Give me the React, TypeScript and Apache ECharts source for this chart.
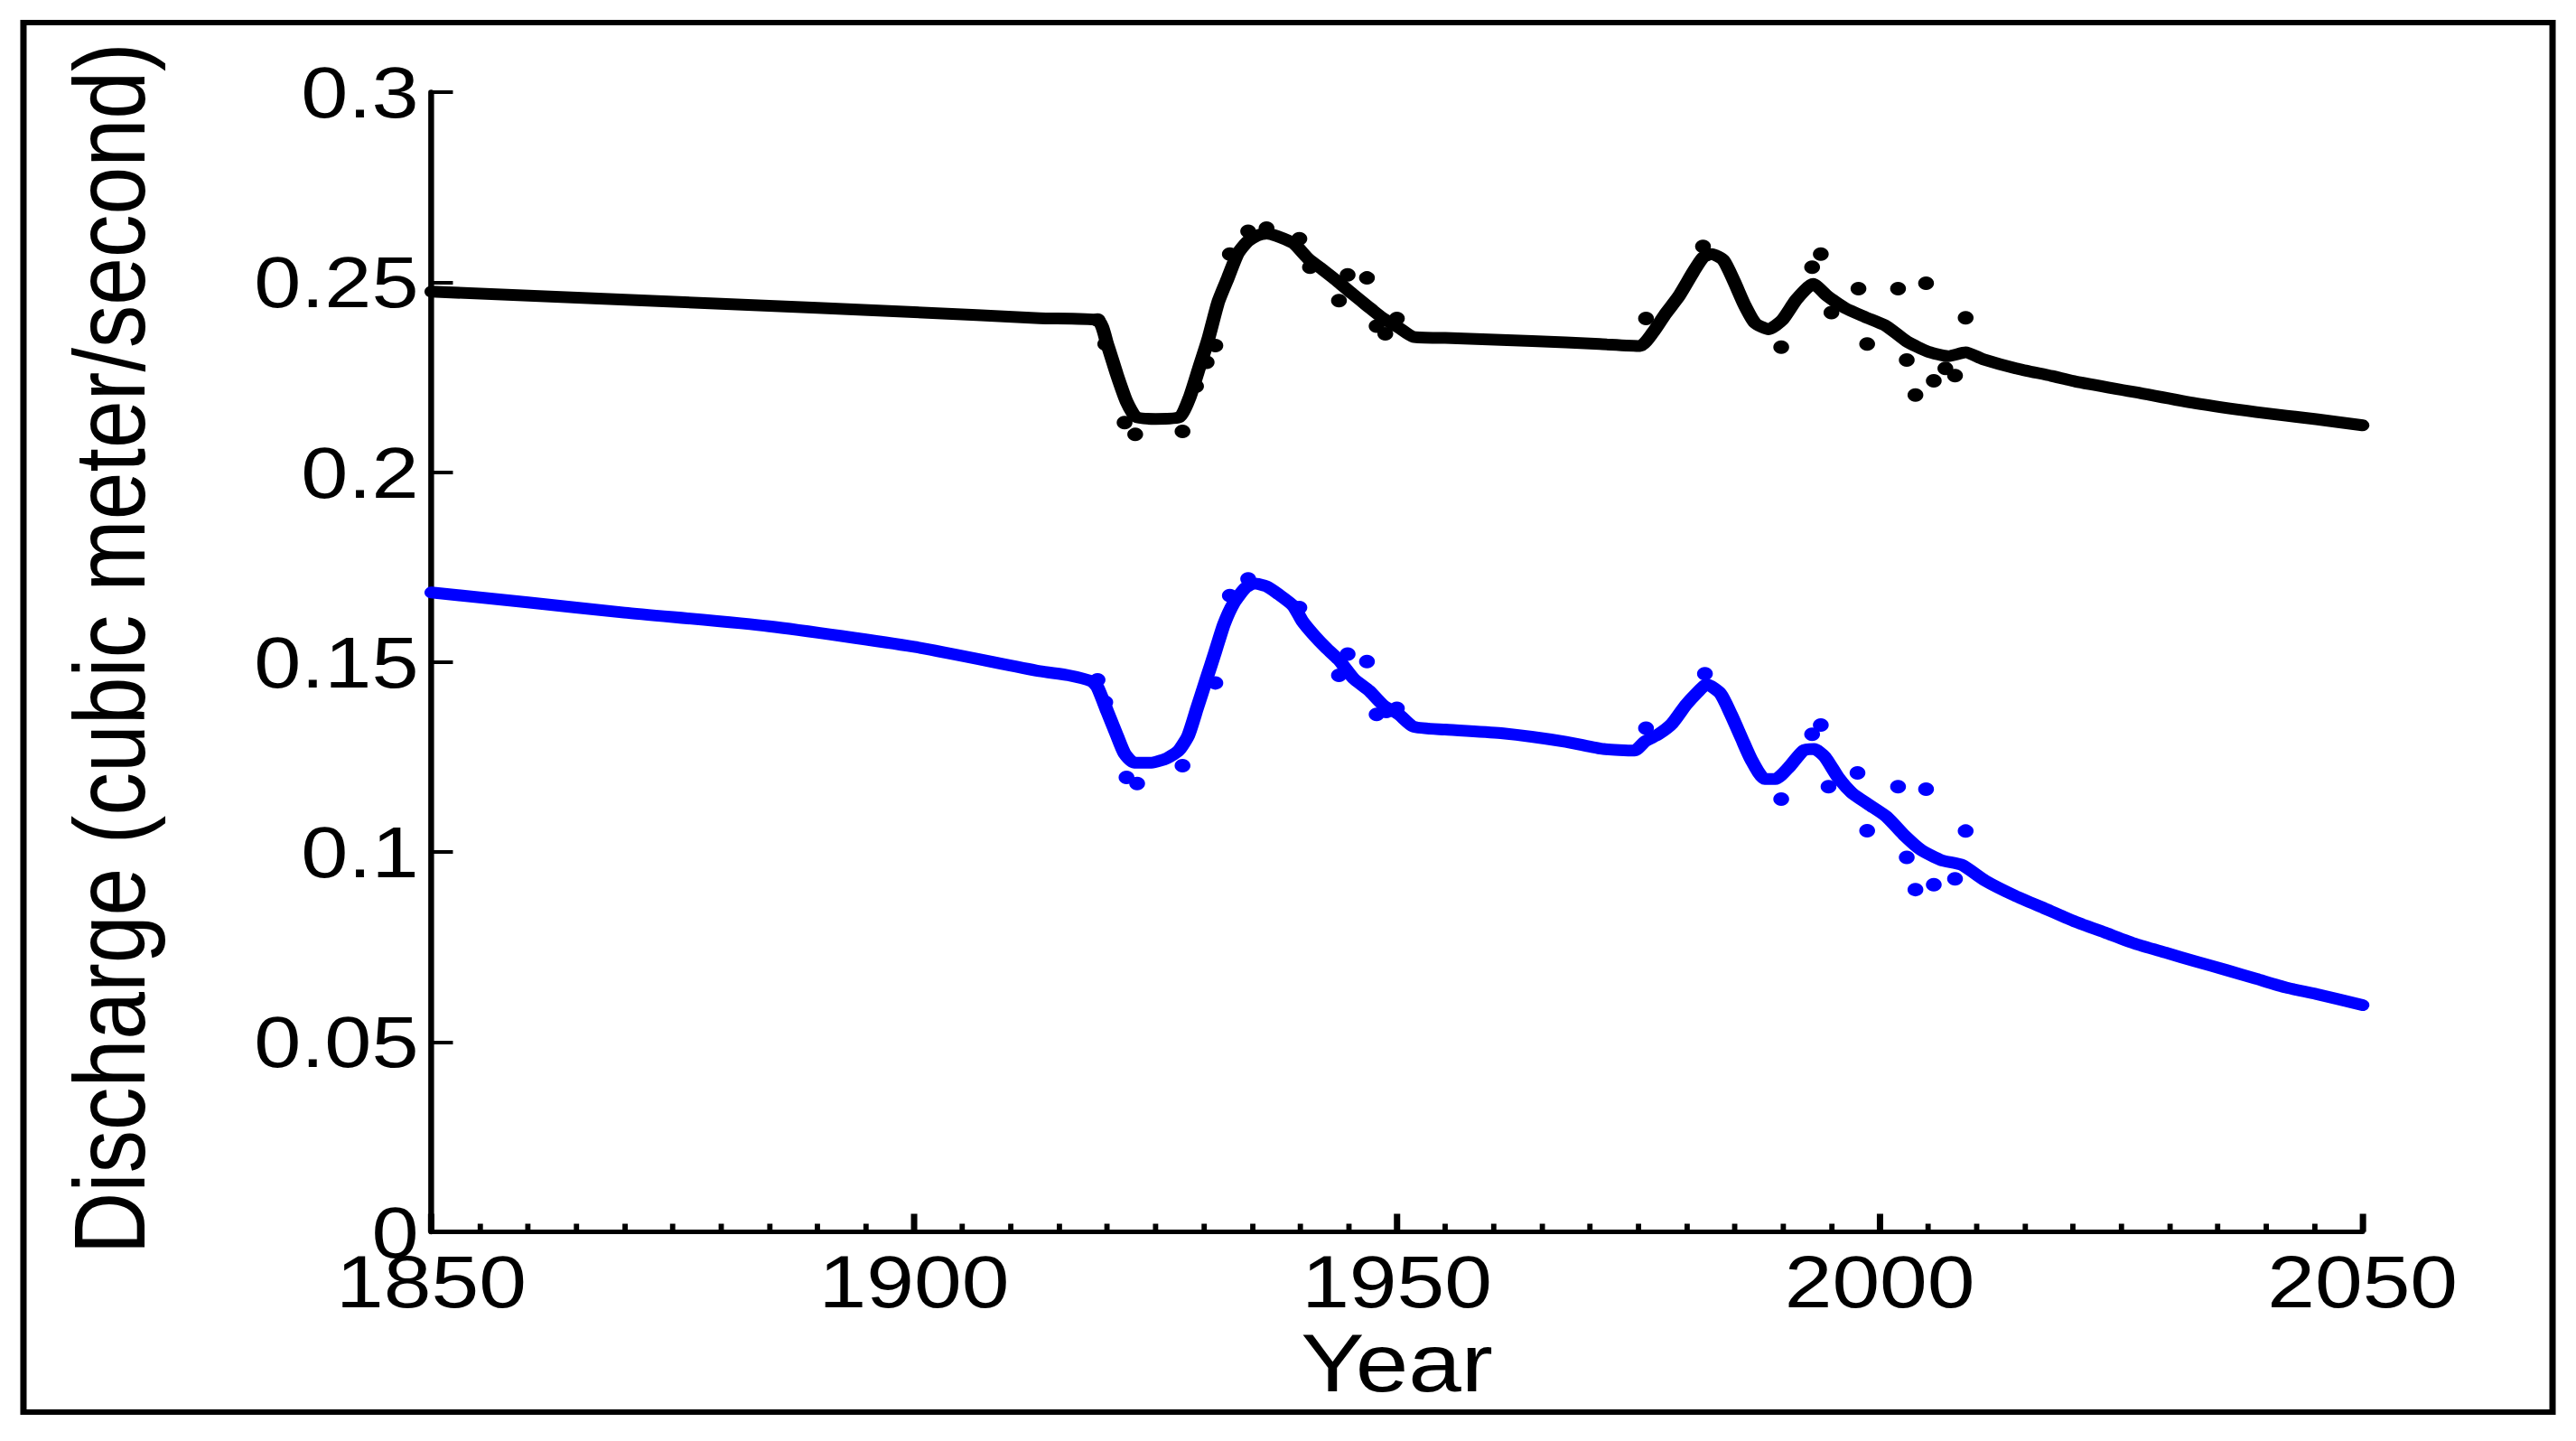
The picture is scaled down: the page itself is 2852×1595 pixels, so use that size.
import React, { useEffect, useRef } from "react";
import * as echarts from "echarts";

// ---- data (year, discharge in m^3/s) ----
const blackModel: [number, number][] = [
  [1850, 0.2475], [1880, 0.2443], [1900, 0.2421], [1913, 0.2405], [1919, 0.2400],
  [1920, 0.2337], [1921, 0.2257], [1922, 0.2186], [1923, 0.2145], [1925, 0.2140],
  [1927.5, 0.2145], [1928.5, 0.2194], [1929.5, 0.2273], [1930.5, 0.2353], [1931.5, 0.2448],
  [1932.5, 0.2511], [1933.5, 0.2574], [1934.5, 0.2606], [1935.5, 0.2622], [1936.5, 0.2628],
  [1937.5, 0.2622], [1939.3, 0.2602], [1940.8, 0.2562], [1942.4, 0.2531], [1944, 0.2499],
  [1945.5, 0.2467], [1947, 0.2436], [1948.6, 0.2404], [1950.2, 0.2380], [1951.7, 0.2356],
  [1955, 0.2353], [1964, 0.2345], [1971, 0.2337], [1975.2, 0.2332], [1976.5, 0.2367],
  [1977.8, 0.2416], [1979.2, 0.2463], [1980.7, 0.2527], [1981.7, 0.2565], [1982.6, 0.2574],
  [1983.8, 0.2558], [1984.9, 0.2503], [1986, 0.2440], [1987.1, 0.2392], [1988.5, 0.2376],
  [1989.9, 0.2400], [1991.4, 0.2455], [1993.1, 0.2495], [1994.6, 0.2463], [1996.4, 0.2432],
  [1998.5, 0.2408], [2000.7, 0.2384], [2002.8, 0.2344], [2005, 0.2317], [2007.1, 0.2305],
  [2008.9, 0.2315], [2010.7, 0.2297], [2014.1, 0.2273], [2017.8, 0.2253], [2020.3, 0.2238],
  [2026.5, 0.2210], [2032.7, 0.2181], [2039, 0.2158], [2045.2, 0.2139], [2050, 0.2123],
];

const blackObserved: [number, number][] = [
  [1919, 0.2400], [1919.8, 0.2337], [1921.8, 0.2130], [1922.9, 0.2099], [1927.8, 0.2107],
  [1929.2, 0.2226], [1930.3, 0.2289], [1931.2, 0.2333], [1932.7, 0.2574], [1934.6, 0.2634],
  [1936.5, 0.2642], [1939.9, 0.2614], [1941, 0.2539], [1944, 0.2451], [1944.9, 0.2519],
  [1946.9, 0.2511], [1947.9, 0.2384], [1948.8, 0.2364], [1950, 0.2404], [1975.8, 0.2404],
  [1981.7, 0.2594], [1989.8, 0.2329], [1993, 0.2539], [1993.9, 0.2574], [1995, 0.2420],
  [1997.8, 0.2483], [1998.7, 0.2337], [2001.9, 0.2483], [2002.8, 0.2295], [2003.7, 0.2203],
  [2004.8, 0.2497], [2005.6, 0.2240], [2006.8, 0.2273], [2007.8, 0.2254], [2008.9, 0.2406],
];

const blueModel: [number, number][] = [
  [1850, 0.1683], [1860, 0.1657], [1870, 0.1630], [1885, 0.1594], [1900, 0.1540],
  [1913, 0.1476], [1916, 0.1465], [1918.4, 0.1449], [1919, 0.1433], [1920, 0.1370],
  [1921, 0.1307], [1921.8, 0.1259], [1922.8, 0.1235], [1924.6, 0.1235], [1926.2, 0.1247],
  [1927.4, 0.1267], [1928.4, 0.1307], [1929.3, 0.1378], [1930.3, 0.1457], [1931.2, 0.1528],
  [1932.1, 0.1600], [1933.1, 0.1655], [1934.3, 0.1695], [1935.2, 0.1707], [1936.5, 0.1699],
  [1937.7, 0.1679], [1939.3, 0.1647], [1940.2, 0.1608], [1941.5, 0.1568], [1942.7, 0.1536],
  [1944, 0.1505], [1945.5, 0.1457], [1947.1, 0.1425], [1948.6, 0.1386], [1950.2, 0.1362],
  [1951.7, 0.1330], [1955, 0.1322], [1961, 0.1312], [1967.5, 0.1290], [1971.4, 0.1271],
  [1974.6, 0.1267], [1975.7, 0.1291], [1977.1, 0.1310], [1978.5, 0.1338], [1979.9, 0.1386],
  [1981, 0.1417], [1982.1, 0.1441], [1983.5, 0.1417], [1984.6, 0.1362], [1985.7, 0.1299],
  [1986.7, 0.1243], [1988.1, 0.1192], [1989.2, 0.1192], [1990.6, 0.1223], [1992.1, 0.1267],
  [1993.2, 0.1271], [1994.3, 0.1251], [1995.7, 0.1196], [1997.1, 0.1156], [1998.9, 0.1124],
  [2000.7, 0.1093], [2002.5, 0.1045], [2004.3, 0.1005], [2006.4, 0.0978], [2008.5, 0.0966],
  [2010.9, 0.0925], [2014, 0.0885], [2017.2, 0.0850], [2020.3, 0.0816], [2023.4, 0.0787],
  [2026.5, 0.0758], [2029.6, 0.0735], [2032.7, 0.0712], [2035.9, 0.0689], [2039, 0.0666],
  [2042.1, 0.0643], [2045.2, 0.0626], [2050, 0.0597],
];

const blueObserved: [number, number][] = [
  [1919, 0.1453], [1919.8, 0.1394], [1922, 0.1196], [1923.1, 0.1180], [1927.8, 0.1227],
  [1931.2, 0.1445], [1932.7, 0.1675], [1934.6, 0.1719], [1939.9, 0.1643], [1944, 0.1465],
  [1944.9, 0.1521], [1946.9, 0.1501], [1947.9, 0.1362], [1948.9, 0.1370], [1950, 0.1378],
  [1975.8, 0.1326], [1981.9, 0.1469], [1989.8, 0.1139], [1993, 0.1310], [1993.9, 0.1334],
  [1994.7, 0.1172], [1997.7, 0.1208], [1998.7, 0.1056], [2001.9, 0.1172], [2002.8, 0.0986],
  [2003.7, 0.0901], [2004.8, 0.1165], [2005.6, 0.0914], [2007.8, 0.0929], [2008.9, 0.1055],
];

const xTitle = "Year";
const yTitle = "Discharge (cubic meter/second)";

const FONT = '"Liberation Sans", Arial, sans-serif';
const STRETCH = 1.17; // the reference figure is stretched horizontally
const W = 2852 / STRETCH;
const H = 1595;

export default function App() {
  const ref = useRef<HTMLDivElement>(null);

  useEffect(() => {
    if (!ref.current) return;
    const chart = echarts.init(ref.current, undefined, { renderer: "svg" });
    const option: any = {
      animation: false,
      backgroundColor: "#ffffff",
      grid: { left: 408.1, top: 102, width: 1827.5, height: 1261.5, containLabel: false },
      xAxis: {
        type: "value",
        min: 1850,
        max: 2050,
        interval: 50,
        name: xTitle,
        nameLocation: "middle",
        nameGap: 100,
        nameTextStyle: { fontFamily: FONT, fontSize: 90, lineHeight: 90, color: "#000" },
        axisLine: { show: true, onZero: false, lineStyle: { color: "#000", width: 5 } },
        axisTick: { show: true, inside: true, length: 20, lineStyle: { color: "#000", width: 6 } },
        minorTick: { show: true, splitNumber: 10, length: 9, lineStyle: { color: "#000", width: 5 } },
        axisLabel: {
          fontFamily: FONT,
          fontSize: 81,
          lineHeight: 50,
          color: "#000",
          margin: 30,
          formatter: (v: number) => String(v),
        },
        splitLine: { show: false },
        minorSplitLine: { show: false },
      },
      yAxis: {
        type: "value",
        min: 0,
        max: 0.3,
        interval: 0.05,
        name: yTitle,
        nameLocation: "middle",
        nameRotate: 90,
        nameGap: 257,
        nameTextStyle: {
          fontFamily: FONT,
          fontSize: 95,
          lineHeight: 95,
          color: "#000",
          padding: [0, 0, 0, 30],
        },
        axisLine: { show: true, onZero: false, lineStyle: { color: "#000", width: 5.5 } },
        axisTick: { show: true, inside: true, length: 20.5, lineStyle: { color: "#000", width: 4 } },
        axisLabel: { fontFamily: FONT, fontSize: 80, lineHeight: 54, color: "#000", margin: 12 },
        splitLine: { show: false },
      },
      graphic: [
        {
          type: "rect",
          shape: { x: 22.2, y: 25, width: 2393.2, height: 1538 },
          style: { fill: "none", stroke: "#000", lineWidth: 6 },
          silent: true,
          z: 100,
        },
      ],
      series: [
        {
          type: "line",
          data: blackModel,
          showSymbol: false,
          symbol: "none",
          smooth: 0.2,
          lineStyle: { color: "#000000", width: 13, cap: "round", join: "round" },
          z: 3,
        },
        {
          type: "scatter",
          data: blackObserved,
          symbol: "circle",
          symbolSize: 15,
          itemStyle: { color: "#000000", opacity: 1 },
          z: 4,
        },
        {
          type: "line",
          data: blueModel,
          showSymbol: false,
          symbol: "none",
          smooth: 0.2,
          lineStyle: { color: "#0000ff", width: 13, cap: "round", join: "round" },
          z: 3,
        },
        {
          type: "scatter",
          data: blueObserved,
          symbol: "circle",
          symbolSize: 15,
          itemStyle: { color: "#0000ff", opacity: 1 },
          z: 4,
        },
      ],
    };
    chart.setOption(option);
    return () => chart.dispose();
  }, []);

  return (
    <div
      ref={ref}
      style={{
        position: "absolute",
        left: 0,
        top: 0,
        width: `${W}px`,
        height: `${H}px`,
        transform: `scaleX(${STRETCH})`,
        transformOrigin: "0 0",
        background: "#fff",
      }}
    />
  );
}
